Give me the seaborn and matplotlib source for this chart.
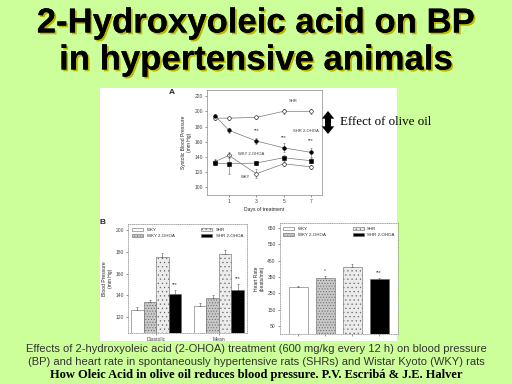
import matplotlib
matplotlib.use("Agg")
import matplotlib.pyplot as plt
import matplotlib.patheffects as pe
from matplotlib.patches import Rectangle, FancyArrowPatch
import pandas as pd
import seaborn as sns

# Panel A: systolic blood pressure over days of treatment
DAYS = [0, 1, 3, 5, 7]
SHR = [191, 191, 192, 200, 200]
SHR_OHOA = [194, 175, 161, 152, 146]
WKY = [134, 142, 118, 131, 127]
WKY_OHOA = [132, 131, 132, 139, 135]
SHR_ERR = [2, 2, 2, 3, 3]
SHR_OHOA_ERR = [2, 3, 4, 6, 6]
WKY_ERR = [3, 4, 6, 3, 3]
WKY_OHOA_ERR = [3, 13, 3, 4, 3]

# Panel B: blood pressure (diastolic / mean) and heart rate
GROUPS = ["WKY", "WKY 2-OHOA", "SHR", "SHR 2-OHOA"]
BP_MEASURES = ["Diastolic", "Mean"]
BP_DIASTOLIC = [126, 134, 175, 141]
BP_MEAN = [130, 137, 178, 145]
BP_DIASTOLIC_ERR = [3, 2, 4, 4]
BP_MEAN_ERR = [3, 3, 4, 5]
HEART_RATE = [287, 342, 413, 336]
HEART_RATE_ERR = [6, 15, 18, 8]

GREEN = "#ccff99"
BAR_STYLE = {
    "WKY": ("white", ""),
    "WKY 2-OHOA": ("#c8c8c8", "......"),
    "SHR": ("#ececec", "...."),
    "SHR 2-OHOA": ("black", ""),
}
TINY = 3.6

sns.set_theme(style="white")
plt.rcParams["font.family"] = ["Liberation Sans", "DejaVu Sans"]
plt.rcParams["hatch.linewidth"] = 0.4
plt.rcParams["hatch.color"] = "#777777"

fig = plt.figure(figsize=(5.12, 3.84), dpi=100)
fig.patch.set_facecolor(GREEN)


def px(x, y, w, h):
    return [x / 512, 1 - (y + h) / 384, w / 512, h / 384]


# white panel behind the figures
fig.add_artist(Rectangle((100 / 512, 1 - 341 / 384), 297 / 512, 253 / 384,
                         transform=fig.transFigure, facecolor="white", edgecolor="none", zorder=-5))

title_fx = [pe.withSimplePatchShadow(offset=(1.3, -1.3), shadow_rgbFace="#b8b800", alpha=1.0), pe.Normal()]
fig.text(0.5, 1 - 23 / 384, "2-Hydroxyoleic acid on BP", ha="center", va="center",
         fontsize=25, fontweight="bold", color="black", path_effects=title_fx)
fig.text(0.5, 1 - 60 / 384, "in hypertensive animals", ha="center", va="center",
         fontsize=25, fontweight="bold", color="black", path_effects=title_fx)


def style_box(ax, ls="-"):
    for s in ax.spines.values():
        s.set_visible(True)
        s.set_color("#888888")
        s.set_linewidth(0.5)
        s.set_linestyle(ls)
    ax.tick_params(axis="both", labelsize=TINY, length=1.5, width=0.4, pad=1.5,
                   colors="#444444", left=True, bottom=True)


# ---- panel A ----
axA = fig.add_axes(px(207, 90, 115, 105))
axA.set_facecolor("white")
series = [
    (SHR, SHR_ERR, "o", "white"),
    (SHR_OHOA, SHR_OHOA_ERR, "o", "black"),
    (WKY, WKY_ERR, "o", "white"),
    (WKY_OHOA, WKY_OHOA_ERR, "s", "black"),
]
for vals, errs, mk, fc in series:
    axA.errorbar(DAYS, vals, yerr=errs, fmt="none", ecolor="#666666", elinewidth=0.4, capsize=1, capthick=0.4)
    sns.lineplot(x=DAYS, y=vals, ax=axA, color="#777777", linewidth=0.5, marker=mk, markersize=2.6,
                 markerfacecolor=fc, markeredgecolor="black", markeredgewidth=0.4)
axA.set_xlim(-0.6, 7.8)
axA.set_ylim(90, 228)
axA.set_xticks([1, 3, 5, 7])
axA.set_yticks(range(100, 221, 20))
style_box(axA)
axA.set_xlabel("Days of treatment", fontsize=TINY, labelpad=2)
axA.set_ylabel("Systolic Blood Pressure\n(mm Hg)", fontsize=TINY, labelpad=2)
for x, y, t in [(5.7, 214, "SHR"), (6.6, 174, "SHR 2-OHOA"), (2.6, 144, "WKY 2-OHOA"), (2.2, 113, "WKY")]:
    axA.text(x, y, t, fontsize=3, ha="center", va="center", color="#333333")
for x, y in [(3, 175), (5, 166), (7, 161)]:
    axA.text(x, y, "***", fontsize=3.5, ha="center", va="center", color="#333333")
fig.text(172 / 512, 1 - 92 / 384, "A", fontsize=6, fontweight="bold", ha="center", va="center")

# effect arrow: two filled arrows, tails overlapping in the middle
for start, end in ((126, 111), (119, 134)):
    fig.add_artist(FancyArrowPatch(
        (328 / 512, 1 - start / 384), (328 / 512, 1 - end / 384), transform=fig.transFigure,
        arrowstyle="simple,head_length=0.55,head_width=0.9,tail_width=0.42",
        mutation_scale=10, linewidth=0, color="black", shrinkA=0, shrinkB=0))
fig.text(340 / 512, 1 - 122 / 384, "Effect of olive oil", fontsize=9.4, ha="left", va="center",
         family=["Liberation Serif", "DejaVu Serif"], color="black")


def style_bars(ax, containers):
    handles = []
    for cont, grp in zip(containers, GROUPS):
        fc, hatch = BAR_STYLE[grp]
        for bar in cont:
            bar.set_facecolor(fc)
            bar.set_hatch(hatch)
            bar.set_edgecolor("#666666")
            bar.set_linewidth(0.4)
        handles.append(cont[0])
    leg = ax.legend(handles, GROUPS, ncol=2, fontsize=3.2, frameon=False, loc="upper center",
                    handlelength=2.5, handleheight=0.6, columnspacing=6, labelspacing=0.3,
                    borderaxespad=0.6)
    return leg


# ---- panel B left: blood pressure ----
bp = pd.DataFrame({
    "measure": [m for m in BP_MEASURES for _ in GROUPS],
    "group": GROUPS * 2,
    "value": BP_DIASTOLIC + BP_MEAN,
    "err": BP_DIASTOLIC_ERR + BP_MEAN_ERR,
})
axB1 = fig.add_axes(px(128, 224, 119, 109))
axB1.set_facecolor("white")
sns.barplot(data=bp, x="measure", y="value", hue="group", hue_order=GROUPS, order=BP_MEASURES,
            ax=axB1, errorbar=None, width=0.8, legend=False)
axB1.set_ylim(105, 206)
axB1.set_xlim(-0.45, 1.45)
axB1.set_yticks(range(120, 201, 20))
cont_b1 = [c for c in axB1.containers][:4]
style_bars(axB1, cont_b1)
for cont, grp in zip(cont_b1, GROUPS):
    sub = bp[bp["group"] == grp]
    xs = [b.get_x() + b.get_width() / 2 for b in cont]
    axB1.errorbar(xs, sub["value"], yerr=[[0] * len(sub), sub["err"]], fmt="none",
                  ecolor="#555555", elinewidth=0.4, capsize=1, capthick=0.4)
    if grp == "SHR 2-OHOA":
        for x, v, e in zip(xs, sub["value"], sub["err"]):
            axB1.text(x, v + e + 3, "***", fontsize=3.5, ha="center", va="bottom", color="#333333")
style_box(axB1, ls=":")
axB1.set_xlabel("")
axB1.set_ylabel("Blood Pressure\n(mm Hg)", fontsize=TINY, labelpad=2)
fig.text(103 / 512, 1 - 222 / 384, "B", fontsize=6, fontweight="bold", ha="center", va="center")

# ---- panel B right: heart rate ----
hr = pd.DataFrame({"group": GROUPS, "value": HEART_RATE, "err": HEART_RATE_ERR})
axB2 = fig.add_axes(px(280, 223, 118, 111))
axB2.set_facecolor("white")
sns.barplot(data=hr, x="group", y="value", hue="group", order=GROUPS, hue_order=GROUPS,
            ax=axB2, errorbar=None, width=0.7, legend=False)
axB2.set_ylim(0, 680)
axB2.set_xlim(-0.67, 3.7)
axB2.set_yticks(range(50, 651, 100))
cont_b2 = [c for c in axB2.containers][:4]
style_bars(axB2, cont_b2)
for cont, grp, v, e in zip(cont_b2, GROUPS, HEART_RATE, HEART_RATE_ERR):
    b = cont[0]
    x = b.get_x() + b.get_width() / 2
    axB2.errorbar([x], [v], yerr=[[0], [e]], fmt="none", ecolor="#555555", elinewidth=0.4,
                  capsize=1, capthick=0.4)
    mark = {"WKY 2-OHOA": "*", "SHR 2-OHOA": "***"}.get(grp)
    if mark:
        axB2.text(x, v + e + 15, mark, fontsize=3.5, ha="center", va="bottom", color="#333333")
style_box(axB2, ls=":")
axB2.set_xticklabels([])
axB2.set_xlabel("")
axB2.set_ylabel("Heart Rate\n(beats/min)", fontsize=TINY, labelpad=2)

# caption
fig.text(0.5, 1 - 349 / 384,
         "Effects of 2-hydroxyoleic acid (2-OHOA) treatment (600 mg/kg every 12 h) on blood pressure",
         ha="center", va="center", fontsize=8, color="#333333")
fig.text(0.5, 1 - 362 / 384,
         "(BP) and heart rate in spontaneously hypertensive rats (SHRs) and Wistar Kyoto (WKY) rats",
         ha="center", va="center", fontsize=8, color="#333333")
fig.text(0.5, 1 - 375 / 384,
         "How Oleic Acid in olive oil reduces blood pressure. P.V. Escribá & J.E. Halver",
         ha="center", va="center", fontsize=9, fontweight="bold", color="black",
         family=["Liberation Serif", "DejaVu Serif"])

fig.savefig("out.png", dpi=100, facecolor=GREEN)
